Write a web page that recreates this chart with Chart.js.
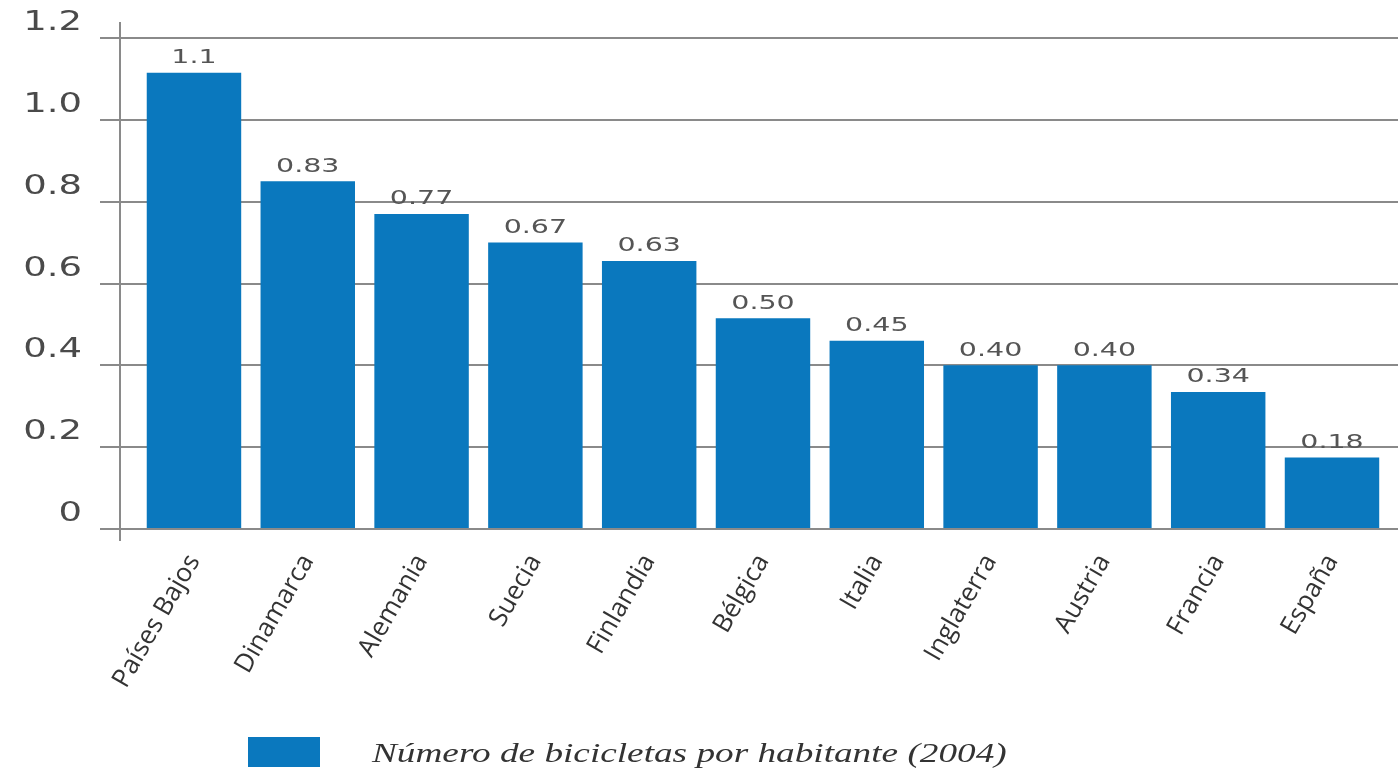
<!DOCTYPE html>
<html>
<head>
<meta charset="utf-8">
<script src="https://cdn.jsdelivr.net/npm/chart.js@4/dist/chart.umd.min.js"></script>
<style>
  html, body { margin: 0; padding: 0; background: #fff; }
  #wrap { width: 1398px; height: 769px; position: relative; }
</style>
</head>
<body>
<div id="wrap"><canvas id="chart"></canvas></div>
<script>
var categories = ['Países Bajos', 'Dinamarca', 'Alemania', 'Suecia', 'Finlandia', 'Bélgica',
                  'Italia', 'Inglaterra', 'Austria', 'Francia', 'España'];
// bar heights as drawn in the picture
var values = [1.115, 0.85, 0.77, 0.70, 0.655, 0.515, 0.46, 0.40, 0.40, 0.335, 0.175];
// numbers printed above the bars
var valueLabels = ['1.1', '0.83', '0.77', '0.67', '0.63', '0.50', '0.45', '0.40', '0.40', '0.34', '0.18'];
var yTicks = [0, 0.2, 0.4, 0.6, 0.8, 1.0, 1.2];
var seriesName = 'Número de bicicletas por habitante (2004)';

var barColor = '#0a78be';
var gridColor = '#8a8a8a';

// the source image is stretched sideways, so some text is drawn widened
function wideText(ctx, text, x, y, sx, align) {
    ctx.save();
    ctx.translate(x, y);
    ctx.scale(sx, 1);
    ctx.textAlign = align;
    ctx.fillText(text, 0, 0);
    ctx.restore();
}

var extras = {
    id: 'extras',
    afterDatasetsDraw: function (chart) {
        var ctx = chart.ctx;
        var meta = chart.getDatasetMeta(0);
        var area = chart.chartArea;
        var ys = chart.scales.y;
        ctx.save();

        // y axis line sticks out a little past the plot
        ctx.strokeStyle = gridColor;
        ctx.lineWidth = 2;
        ctx.beginPath();
        ctx.moveTo(area.left, area.top - 16);
        ctx.lineTo(area.left, area.bottom + 12);
        ctx.stroke();

        // y tick labels, sitting a bit above their grid lines
        ctx.font = '27px "DejaVu Sans"';
        ctx.fillStyle = '#4a4a4a';
        ctx.textBaseline = 'middle';
        ys.ticks.forEach(function (t) {
            var label = t.value === 0 ? '0' : t.value.toFixed(1);
            wideText(ctx, label, area.left - 38, ys.getPixelForValue(t.value) - 15, 1.37, 'right');
        });

        // numbers above the bars
        ctx.font = '19px "DejaVu Sans"';
        ctx.fillStyle = '#555';
        ctx.textBaseline = 'bottom';
        meta.data.forEach(function (bar, i) {
            wideText(ctx, valueLabels[i], bar.x, bar.y - 5, 1.5, 'center');
        });

        // legend
        ctx.fillStyle = barColor;
        ctx.fillRect(248, 737, 72, 30);
        ctx.fillStyle = '#333';
        ctx.font = 'italic 28px "Liberation Serif"';
        ctx.textBaseline = 'alphabetic';
        wideText(ctx, seriesName, 372, 762, 1.33, 'left');
        ctx.restore();
    }
};

var ctx = document.getElementById('chart').getContext('2d');
var chart = new Chart(ctx, {
    type: 'bar',
    data: {
        datasets: [{
            label: seriesName,
            data: values.map(function (v, i) { return { x: i, y: v }; }),
            backgroundColor: barColor,
            borderWidth: 0,
            categoryPercentage: 1,
            barPercentage: 0.83
        }]
    },
    options: {
        responsive: true,
        maintainAspectRatio: false,
        animation: false,
        layout: { padding: { top: 38, left: 0, right: 0, bottom: 0 } },
        plugins: {
            legend: { display: false },
            tooltip: { enabled: false }
        },
        scales: {
            x: {
                type: 'linear',
                offset: false,
                min: -0.65,
                max: 10.58,
                afterBuildTicks: function (scale) {
                    scale.ticks = categories.map(function (c, i) { return { value: i }; });
                },
                afterFit: function (scale) {
                    scale.height = 240;
                    scale.paddingLeft = 0;
                    scale.paddingRight = 0;
                },
                grid: { display: false, offset: false },
                border: { display: true, color: gridColor, width: 2 },
                ticks: {
                    autoSkip: false,
                    minRotation: 60,
                    maxRotation: 60,
                    padding: 12,
                    color: '#333',
                    font: { family: 'Open Sans', size: 26 },
                    callback: function (v) { return categories[v]; }
                }
            },
            y: {
                min: 0,
                max: 1.2,
                afterBuildTicks: function (scale) {
                    scale.ticks = yTicks.map(function (v) { return { value: v }; });
                },
                afterFit: function (scale) { scale.width = 120; },
                grid: { color: gridColor, lineWidth: 2, tickLength: 20 },
                border: { display: false },
                ticks: { display: false }
            }
        }
    },
    plugins: [extras]
});
</script>
</body>
</html>
